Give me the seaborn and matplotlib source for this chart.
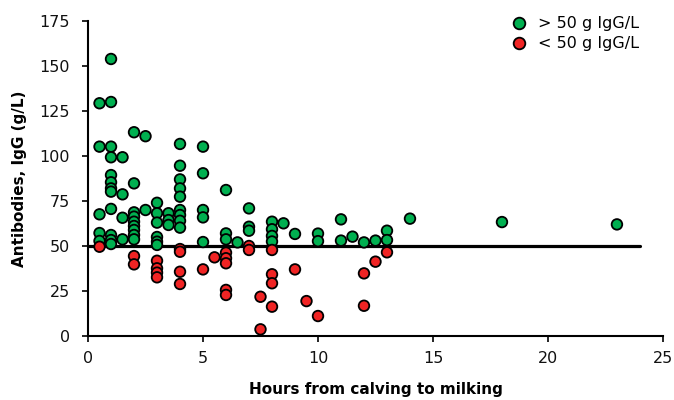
import numpy as np
import pandas as pd
import matplotlib
matplotlib.use("Agg")
import matplotlib.pyplot as plt
import seaborn as sns

# Green points (> 50 g IgG/L): hours and IgG values
green_hours = [0.5]*5 + [1]*12 + [1.5]*4 + [2]*9 + [2.5]*2 + [3]*6 + [3.5]*3 + [4]*9 + \
              [5]*5 + [6]*3 + [6.5] + [7]*3 + [8]*4 + [8.5] + [9] + [10]*2 + [11]*2 + \
              [11.5] + [12] + [12.5] + [13]*2 + [14] + [18] + [23]
green_igg = [129.3, 105.2, 67.6, 57.2, 52.8,
             153.9, 130, 105.2, 99.3, 89.4, 85.4, 82, 80.2, 70.6, 56.1, 53.3, 51.1,
             99.3, 78.7, 65.7, 53.7,
             113.2, 84.8, 68.7, 66.3, 63.5, 61.1, 58.9, 56.1, 53.7,
             111, 70,
             74, 68.2, 63, 55, 52.4, 50.6,
             68.2, 64.4, 61.7,
             106.7, 94.6, 87, 82, 77.4, 70, 67.2, 64, 60.2,
             105.2, 90.4, 70, 65.9, 52.2,
             81.1, 57, 53.7,
             52,
             70.9, 60.7, 58.5,
             63.5, 59.3, 55.6, 52.5,
             62.6,
             56.7,
             56.9, 52.7,
             64.8, 53,
             55.2,
             52,
             53,
             58.5, 53.3,
             65.2,
             63.3,
             62]

# Red points (< 50 g IgG/L)
red_hours = [0.5] + [2]*2 + [3]*4 + [4]*4 + [5] + [5.5] + [6]*5 + [7]*2 + [7.5]*2 + \
            [8]*4 + [9] + [9.5] + [10] + [12]*2 + [12.5] + [13]
red_igg = [49.6,
           44.4, 39.8,
           41.8, 37.6, 35.2, 32.6,
           48.3, 46.8, 35.7, 28.9,
           37,
           43.7,
           46.3, 43.2, 40.4, 25.6, 22.8,
           50, 47.8,
           21.8, 3.7,
           47.8, 34.3, 29.3, 16.3,
           37,
           19.4,
           11.1,
           34.8, 16.8,
           41.3,
           46.5]

labels = ["> 50 g IgG/L", "< 50 g IgG/L"]
colors = ["#00B050", "#F02424"]
threshold = 50
x_ticks = [0, 5, 10, 15, 20, 25]
y_ticks = [0, 25, 50, 75, 100, 125, 150, 175]

df = pd.DataFrame({
    "hours": green_hours + red_hours,
    "igg": green_igg + red_igg,
    "group": [labels[0]] * len(green_hours) + [labels[1]] * len(red_hours),
})

sns.set_style("ticks")
plt.rcParams["font.family"] = ["DejaVu Sans"]
plt.rcParams["text.color"] = "black"
plt.rcParams["axes.labelcolor"] = "black"
plt.rcParams["xtick.color"] = "black"
plt.rcParams["ytick.color"] = "black"

fig = plt.figure(figsize=(6.74, 4.0), dpi=100)
ax = fig.add_axes([0.1306, 0.16, 0.853, 0.7875])

ax.plot([0, 24], [threshold, threshold], color="black", lw=2.3, zorder=1)

sns.scatterplot(data=df, x="hours", y="igg", hue="group", hue_order=labels,
                palette=colors, s=58, edgecolor="black", linewidth=1.3,
                ax=ax, zorder=3, legend=True)

ax.set_xlim(0, 25)
ax.set_ylim(0, 175)
ax.set_xticks(x_ticks)
ax.set_yticks(y_ticks)
ax.tick_params(axis="both", labelsize=11.5, length=4, width=1.2, color="black",
               labelcolor="#111111", direction="out")
ax.tick_params(axis="x", pad=7)
ax.tick_params(axis="y", pad=9)
for s in ["left", "bottom"]:
    ax.spines[s].set_linewidth(1.5)
    ax.spines[s].set_color("black")
sns.despine(ax=ax)

ax.set_xlabel("Hours from calving to milking", fontsize=11, fontweight="bold",
              labelpad=11, color="black")
ax.set_ylabel("Antibodies, IgG (g/L)", fontsize=11, fontweight="bold",
              labelpad=9, color="black")

leg = ax.legend(loc="upper right", bbox_to_anchor=(0.975, 1.045), frameon=False,
                fontsize=11.5, handletextpad=0.2, borderaxespad=0.2,
                labelspacing=0.3, markerscale=1.1)

fig.savefig("out.png", dpi=100)
